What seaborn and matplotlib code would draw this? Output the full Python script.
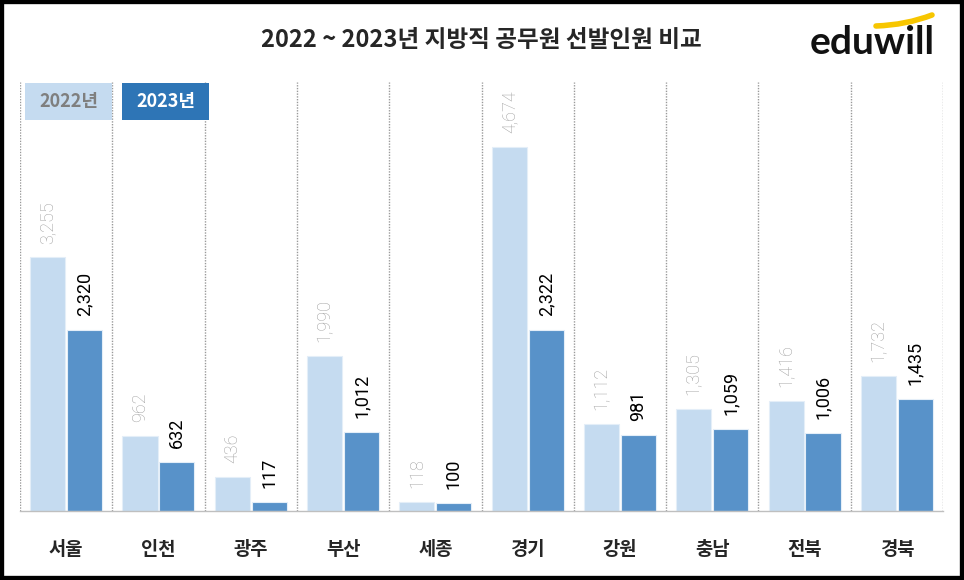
import pandas as pd
import numpy as np
import matplotlib
matplotlib.use('Agg')
import matplotlib.pyplot as plt
import seaborn as sns
from matplotlib.patches import Rectangle, PathPatch
from matplotlib.path import Path

# ===============================
# Data
# ===============================
regions = ['서울', '인천', '광주', '부산', '세종', '경기', '강원', '충남', '전북', '경북']
y2022 = [3255, 962, 436, 1990, 118, 4674, 1112, 1305, 1416, 1732]
y2023 = [2320, 632, 117, 1012, 100, 2322, 981, 1059, 1006, 1435]
years = ['2022년', '2023년']
title = '2022 ~ 2023년 지방직 공무원 선발인원 비교'

df = pd.DataFrame({
    '지역': regions * 2,
    '연도': [years[0]] * len(regions) + [years[1]] * len(regions),
    '인원': y2022 + y2023,
})

c22 = '#c5dbf0'
c23 = '#5892c9'
c23_legend = '#2e75b6'

# ===============================
# Style
# ===============================
sns.set_style('white')
plt.rcParams['font.family'] = ['Noto Sans CJK KR', 'DejaVu Sans']

fig = plt.figure(figsize=(9.64, 5.8), dpi=100)
ax = fig.add_axes([20 / 964, 69 / 580, 923 / 964, 429 / 580])

sns.barplot(data=df, x='지역', y='인원', hue='연도', palette={years[0]: c22, years[1]: c23},
            width=0.8, gap=0.05, saturation=1, edgecolor='#e4eef8', linewidth=0.8,
            legend=False, ax=ax)

ax.set_xlim(-0.5, len(regions) - 0.5)
ax.set_ylim(0, 5507)

# dotted separators between regions
bounds = np.arange(len(regions) + 1) - 0.5
for b in bounds:
    ax.axvline(b, color='#9a9a9a', linestyle=(0, (1, 1)), linewidth=1, zorder=0)

# value labels
for cont, vals, col, wt in [(ax.containers[0], y2022, '#a0a0a0', 'light'),
                            (ax.containers[1], y2023, 'black', 'normal')]:
    for bar, v in zip(cont, vals):
        ax.annotate(f'{v:,}', (bar.get_x() + bar.get_width() / 2, bar.get_height()),
                    xytext=(0, 10), textcoords='offset points', rotation=90,
                    ha='center', va='bottom', fontsize=13, color=col,
                    fontweight=wt, family='Roboto')

# axes styling
for s in ['top', 'right', 'left']:
    ax.spines[s].set_visible(False)
ax.spines['bottom'].set_color('#bfbfbf')
ax.spines['bottom'].set_linewidth(1)
ax.set_yticks([])
ax.set_xlabel('')
ax.set_ylabel('')
ax.set_xticks(range(len(regions)))
ax.set_xticklabels(regions, fontsize=13.5, fontweight='bold')
ax.set_xticks(bounds, minor=True)
ax.tick_params(axis='x', which='major', length=0, pad=21)
ax.tick_params(axis='x', which='minor', length=6, color='#bfbfbf', width=1)

# legend boxes
fig.patches.append(Rectangle((25 / 964, 1 - 120 / 580), 87 / 964, 37 / 580,
                             transform=fig.transFigure, facecolor=c22, edgecolor='none', zorder=5))
fig.patches.append(Rectangle((122 / 964, 1 - 120 / 580), 87 / 964, 37 / 580,
                             transform=fig.transFigure, facecolor=c23_legend, edgecolor='none', zorder=5))
fig.text(68.5 / 964, 1 - 101.5 / 580, years[0], ha='center', va='center', fontsize=13,
         fontweight='bold', color='#7f7f7f', zorder=6)
fig.text(165.5 / 964, 1 - 101.5 / 580, years[1], ha='center', va='center', fontsize=13,
         fontweight='bold', color='white', zorder=6)

# title
fig.text(481 / 964, 1 - 40 / 580, title, ha='center', va='center', fontsize=17, fontweight='bold')

# logo
fig.text(872 / 964, 1 - 42 / 580, 'eduwill', ha='center', va='center', fontsize=28,
         fontweight='bold', family=['Lato', 'DejaVu Sans'], color='#111111')
arc = Path([(876 / 964, 1 - 26 / 580), (906 / 964, 1 - 25 / 580), (932 / 964, 1 - 15 / 580)],
           [Path.MOVETO, Path.CURVE3, Path.CURVE3])
fig.patches.append(PathPatch(arc, transform=fig.transFigure, facecolor='none',
                             edgecolor='#f7c600', linewidth=4, capstyle='round'))

# outer black frame
fig.patches.append(Rectangle((0, 0), 1, 1, transform=fig.transFigure, facecolor='none',
                             edgecolor='black', linewidth=6, zorder=10))

plt.savefig('out.png', dpi=100)
